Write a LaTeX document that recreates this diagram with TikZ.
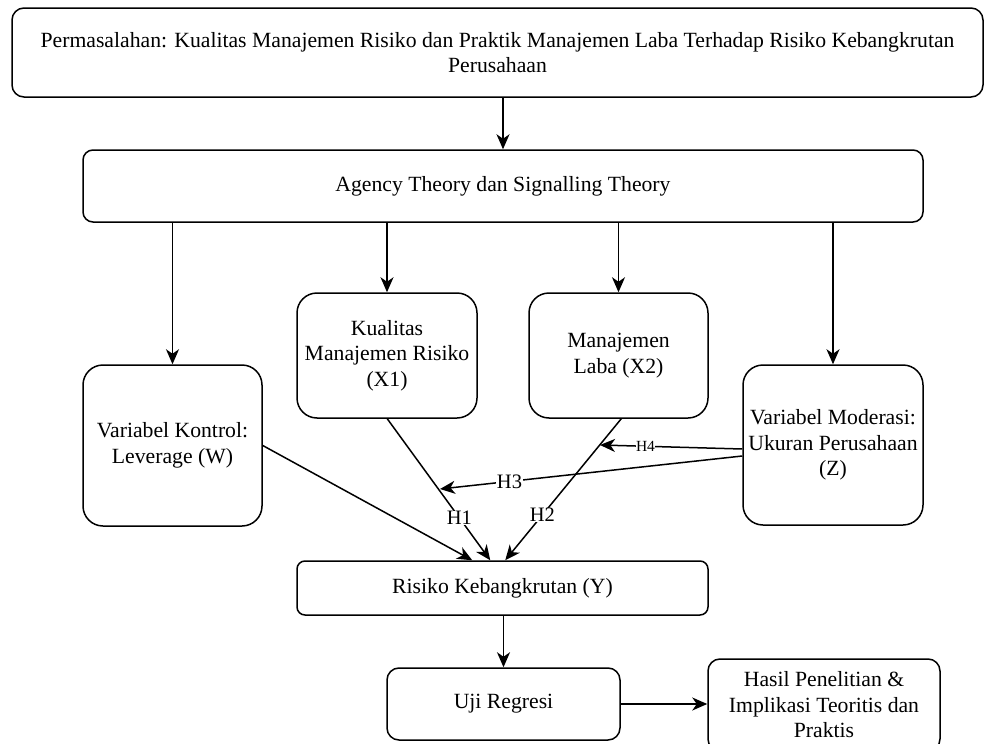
\documentclass[tikz,border=0pt]{standalone}
\usepackage{fontspec}
\setmainfont{Liberation Serif}
\usetikzlibrary{arrows.meta,calc}
\begin{document}
\begin{tikzpicture}[x=1pt,y=-1pt,
  box/.style={draw, line width=1.5pt, inner sep=0pt, align=center,
    font=\fontsize{21.7}{25.5}\selectfont},
  conn/.style={line width=1.5pt, -{Stealth[length=15pt,width=13pt,inset=4.5pt]}},
  hlab/.style={fill=white, inner sep=0.5pt, font=\fontsize{20.5}{22}\selectfont},
  hlabs/.style={fill=white, inner sep=0.5pt, font=\fontsize{15.5}{17}\selectfont}]
\useasboundingbox (0,0) rectangle (986,744);
\node[box, rounded corners=12pt, minimum width=971pt, minimum height=89pt] (top) at (497.5,52.5)
  {Permasalahan: Kualitas Manajemen Risiko dan Praktik Manajemen Laba Terhadap Risiko Kebangkrutan\\Perusahaan};
\node[box, rounded corners=10pt, minimum width=840pt, minimum height=72pt] (agency) at (503,186)
  {Agency Theory dan Signalling Theory};
\node[box, rounded corners=20pt, minimum width=179pt, minimum height=161pt] (kontrol) at (172.5,445.5)
  {Variabel Kontrol:\\Leverage (W)};
\node[box, rounded corners=20pt, minimum width=180pt, minimum height=125pt] (kualitas) at (387,355.5)
  {Kualitas\\Manajemen Risiko\\(X1)};
\node[box, rounded corners=20pt, minimum width=179pt, minimum height=125pt] (laba) at (618.5,355.5)
  {Manajemen\\Laba (X2)};
\node[box, rounded corners=20pt, minimum width=180pt, minimum height=160pt] (moderasi) at (833,445)
  {Variabel Moderasi:\\Ukuran Perusahaan\\(Z)};
\node[box, rounded corners=8pt, minimum width=411pt, minimum height=54pt] (risiko) at (502.5,588)
  {Risiko Kebangkrutan (Y)};
\node[box, rounded corners=12pt, minimum width=233pt, minimum height=72pt] (uji) at (503.5,704)
  {Uji Regresi};
\node[box, rounded corners=12pt, minimum width=232pt, minimum height=92pt] (hasil) at (824,705)
  {Hasil Penelitian \&\\Implikasi Teoritis dan\\Praktis};

\coordinate (h3t) at (440,489);
\coordinate (h4t) at (600,445);

\draw[conn] (top.south -| agency.north) -- (agency.north);
\draw[conn] (agency.south -| kontrol.north) -- (kontrol.north);
\draw[conn] (agency.south -| kualitas.north) -- (kualitas.north);
\draw[conn] (agency.south -| laba.north) -- (laba.north);
\draw[conn] (agency.south -| moderasi.north) -- (moderasi.north);

\draw[conn] ($(kualitas.south west)+(91,0)$) -- node[hlab, pos=0.7] {H1} ($(risiko.north west)+(194,0)$);
\draw[conn] ($(laba.south west)+(93,0)$) -- node[hlab, pos=0.68] {H2} ($(risiko.north west)+(209,0)$);
\draw[conn] (kontrol.east) -- ($(risiko.north west)+(176,0)$);
\draw[conn] ($(moderasi.west)+(0,11)$) -- node[hlab, pos=0.77] {H3} (h3t);
\draw[conn] ($(moderasi.west)+(0,4)$) -- node[hlabs, pos=0.68] {H4} (h4t);

\draw[conn] (risiko.south -| uji.north) -- (uji.north);
\draw[conn] (uji.east) -- (hasil.west |- uji.east);
\end{tikzpicture}
\end{document}
